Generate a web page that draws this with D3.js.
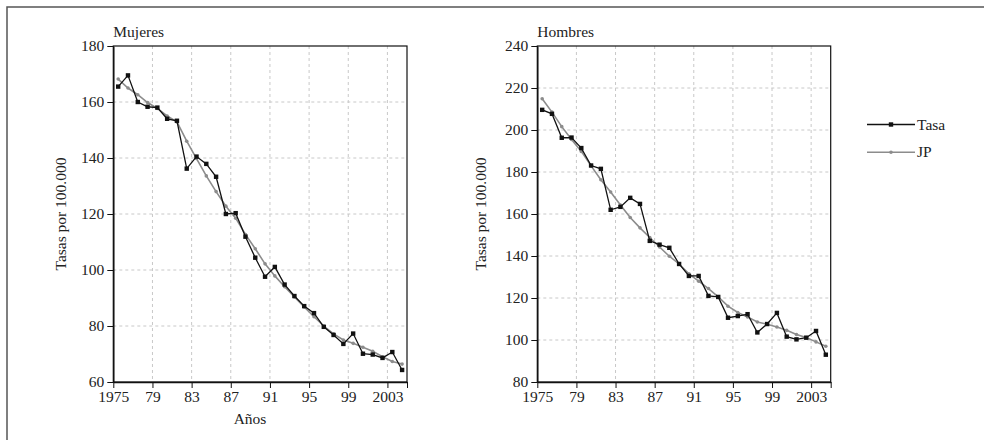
<!doctype html>
<html>
<head>
<meta charset="utf-8">
<style>
  body { margin: 0; background: #fff; }
  svg text { font-family: "Liberation Serif", "DejaVu Serif", serif; fill: #222; }
  .grid line { stroke: #c8c8c8; stroke-dasharray: 3,3; }
  .axis path, .axis line { stroke: #111; }
</style>
<script src="https://d3js.org/d3.v7.min.js"></script>
</head>
<body>
<svg width="984" height="440" id="chart"></svg>
<script>
// data
var years = [1975, 1976, 1977, 1978, 1979, 1980, 1981, 1982, 1983, 1984,
             1985, 1986, 1987, 1988, 1989, 1990, 1991, 1992, 1993, 1994,
             1995, 1996, 1997, 1998, 1999, 2000, 2001, 2002, 2003, 2004];

var mujeresTasa = [165.5, 169.5, 160.0, 158.3, 158.0, 154.0, 153.3, 136.2, 140.5, 137.9,
                   133.3, 120.0, 120.3, 111.9, 104.4, 97.6, 101.1, 94.8, 90.7, 87.1,
                   84.6, 79.7, 76.8, 73.6, 77.3, 70.1, 69.8, 68.6, 70.7, 64.3];
var mujeresJP   = [168.2, 165.0, 162.6, 159.8, 157.7, 155.0, 152.9, 146.0, 139.8, 133.6,
                   128.0, 122.8, 118.5, 112.7, 107.6, 102.2, 97.9, 94.0, 90.4, 86.8,
                   83.3, 80.0, 77.2, 75.0, 73.8, 72.4, 71.0, 69.0, 67.3, 66.4];

var hombresTasa = [209.6, 207.7, 196.3, 196.4, 191.4, 183.1, 181.5, 162.0, 163.4, 167.7,
                   164.8, 147.2, 145.4, 143.9, 136.2, 130.5, 130.5, 121.0, 120.5, 110.6,
                   111.4, 112.3, 103.6, 107.6, 112.9, 101.6, 100.3, 101.1, 104.3, 93.0];
var hombresJP   = [214.9, 208.5, 201.6, 195.5, 189.8, 182.9, 176.3, 170.5, 164.3, 158.3,
                   153.4, 148.8, 144.3, 139.9, 136.2, 131.5, 128.0, 124.5, 120.5, 116.1,
                   113.1, 111.0, 108.6, 107.5, 106.2, 104.6, 102.6, 101.2, 99.1, 97.0];

var xTicks = [1975, 1979, 1983, 1987, 1991, 1995, 1999, 2003];
var xTickLabels = ["1975", "79", "83", "87", "91", "95", "99", "2003"];
var mujeresTicks = [60, 80, 100, 120, 140, 160, 180];
var hombresTicks = [80, 100, 120, 140, 160, 180, 200, 220, 240];

var seriesNames = ["Tasa", "JP"];

var fontSize = "15.5px";
var svg = d3.select("#chart");

// outer frame (only top and left edges show in the picture)
svg.append("rect")
   .attr("x", 7).attr("y", 7)
   .attr("width", 1000).attr("height", 460)
   .attr("fill", "none")
   .attr("stroke", "#555")
   .attr("stroke-width", 1.5);

var plotTop = 46, plotBottom = 382;

function drawPanel(o) {
    var x = d3.scaleLinear().domain([1975, 2005]).range([o.left, o.right]);
    var y = d3.scaleLinear().domain(o.yDomain).range([plotBottom, plotTop]);
    var g = svg.append("g");

    // grid
    var grid = g.append("g").attr("class", "grid");
    grid.selectAll(".gx").data(xTicks.slice(1))
        .enter().append("line")
        .attr("x1", function(d) { return x(d); })
        .attr("x2", function(d) { return x(d); })
        .attr("y1", plotTop).attr("y2", plotBottom);
    grid.selectAll(".gy").data(o.yTicks.slice(1, -1))
        .enter().append("line")
        .attr("x1", o.left).attr("x2", o.right)
        .attr("y1", function(d) { return y(d); })
        .attr("y2", function(d) { return y(d); });

    var pts = years.map(function(yr, i) {
        return {year: yr, tasa: o.tasa[i], jp: o.jp[i]};
    });

    var lineJP = d3.line()
        .x(function(d) { return x(d.year + 0.5); })
        .y(function(d) { return y(d.jp); });
    var lineTasa = d3.line()
        .x(function(d) { return x(d.year + 0.5); })
        .y(function(d) { return y(d.tasa); });

    g.append("path").datum(pts)
     .attr("d", lineJP)
     .attr("fill", "none").attr("stroke", "#8c8c8c").attr("stroke-width", 1.6);
    g.selectAll(".jp").data(pts).enter().append("circle")
     .attr("cx", function(d) { return x(d.year + 0.5); })
     .attr("cy", function(d) { return y(d.jp); })
     .attr("r", 1.8)
     .attr("fill", "#8c8c8c");

    g.append("path").datum(pts)
     .attr("d", lineTasa)
     .attr("fill", "none").attr("stroke", "#111").attr("stroke-width", 1.3);
    g.selectAll(".tasa").data(pts).enter().append("rect")
     .attr("x", function(d) { return x(d.year + 0.5) - 2.2; })
     .attr("y", function(d) { return y(d.tasa) - 2.2; })
     .attr("width", 4.4).attr("height", 4.4)
     .attr("fill", "#111");

    // box
    g.append("rect")
     .attr("x", o.left).attr("y", plotTop)
     .attr("width", o.right - o.left).attr("height", plotBottom - plotTop)
     .attr("fill", "none").attr("stroke", "#111").attr("stroke-width", 1.2);

    // axes
    g.append("g").attr("class", "axis")
     .attr("transform", "translate(" + o.left + ",0)")
     .call(d3.axisLeft(y).tickValues(o.yTicks).tickSize(6).tickSizeOuter(0).tickPadding(3))
     .call(function(a) {
         a.select(".domain").attr("stroke-width", 1.5);
         a.selectAll("text").attr("font-size", fontSize).attr("font-family", null).attr("fill", "#222");
     });

    g.append("g").attr("class", "axis")
     .attr("transform", "translate(0," + plotBottom + ")")
     .call(d3.axisBottom(x).tickValues(xTicks.concat([2005])).tickSize(6).tickSizeOuter(0).tickPadding(3)
           .tickFormat(function(d) { var i = xTicks.indexOf(d); return i < 0 ? "" : xTickLabels[i]; }))
     .call(function(a) {
         a.select(".domain").attr("stroke-width", 1.5);
         a.selectAll("text").attr("font-size", fontSize).attr("font-family", null).attr("fill", "#222");
     });

    // titles
    g.append("text")
     .attr("x", o.left).attr("y", 37)
     .attr("font-size", fontSize)
     .text(o.title);

    g.append("text")
     .attr("transform", "translate(" + o.yLabelX + "," + ((plotTop + plotBottom) / 2) + ") rotate(-90)")
     .attr("text-anchor", "middle")
     .attr("font-size", fontSize)
     .text("Tasas por 100.000");

    if (o.xLabel) {
        g.append("text")
         .attr("x", 250).attr("y", 424)
         .attr("text-anchor", "middle")
         .attr("font-size", fontSize)
         .text(o.xLabel);
    }
}

drawPanel({
    title: "Mujeres", left: 113.3, right: 407, yDomain: [60, 180], yTicks: mujeresTicks,
    tasa: mujeresTasa, jp: mujeresJP, yLabelX: 66, xLabel: "Años"
});
drawPanel({
    title: "Hombres", left: 537.3, right: 830.7, yDomain: [80, 240], yTicks: hombresTicks,
    tasa: hombresTasa, jp: hombresJP, yLabelX: 486, xLabel: null
});

// legend
var legend = svg.append("g").attr("transform", "translate(867,124.5)");
var legendItems = legend.selectAll("g").data(seriesNames).enter().append("g")
    .attr("transform", function(d, i) { return "translate(0," + (i * 27.7) + ")"; });
legendItems.append("line")
    .attr("x1", 0).attr("x2", 48).attr("y1", 0).attr("y2", 0)
    .attr("stroke", function(d, i) { return i === 0 ? "#111" : "#8c8c8c"; })
    .attr("stroke-width", function(d, i) { return i === 0 ? 1.3 : 1.6; });
legendItems.each(function(d, i) {
    var s = d3.select(this);
    if (i === 0) {
        s.append("rect").attr("x", 21.8).attr("y", -2.2).attr("width", 4.4).attr("height", 4.4).attr("fill", "#111");
    } else {
        s.append("circle").attr("cx", 24).attr("cy", 0).attr("r", 1.8).attr("fill", "#8c8c8c");
    }
});
legendItems.append("text")
    .attr("x", 50).attr("y", 5)
    .attr("font-size", fontSize)
    .text(function(d) { return d; });
</script>
</body>
</html>
